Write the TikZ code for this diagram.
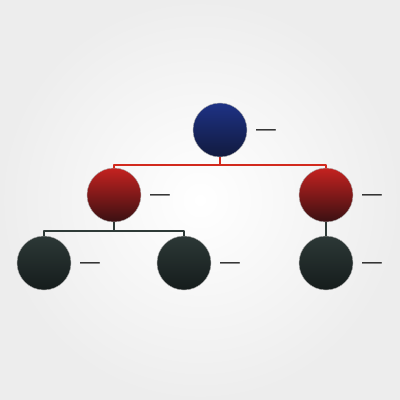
\documentclass[tikz,border=0pt]{standalone}
\usetikzlibrary{calc,positioning}

\definecolor{rootblue}{HTML}{1E3285}
\definecolor{rootbluedark}{HTML}{111A3E}
\definecolor{midred}{HTML}{C42220}
\definecolor{midreddark}{HTML}{3A1012}
\definecolor{leafgray}{HTML}{2C3836}
\definecolor{leafgraydark}{HTML}{151C1C}
\definecolor{linkred}{HTML}{D22A1E}
\definecolor{linkgray}{HTML}{2F3B38}

\begin{document}
\begin{tikzpicture}[x=0.025cm,y=-0.025cm,line cap=round,line join=round,
    ball/.style={circle,minimum size=1.35cm,inner sep=0pt,draw=gray!60,
      line width=.3pt},
    rootball/.style={ball,top color=rootblue,bottom color=rootbluedark},
    midball/.style={ball,top color=midred,bottom color=midreddark},
    leafball/.style={ball,top color=leafgray,bottom color=leafgraydark},
    redlink/.style={draw=linkred,line width=1.5pt,line cap=butt},
    graylink/.style={draw=linkgray,line width=1.5pt,line cap=butt},
    dashlabel/.style={inner sep=0pt,font=\Large,yshift=-6pt}]
    % Soft background.
    \fill[gray!14] (0,0) rectangle (400,400);
    \shade[inner color=white,outer color=gray!14] (0,0) rectangle (400,400);
    \useasboundingbox (0,0) rectangle (400,400);

    % The three levels.
    \node[rootball] (root) at (220,130) {};
    \node[midball] (midl) at (114,195) {};
    \node[midball] (midr) at (326,195) {};
    \node[leafball] (leafa) at (44,263) {};
    \node[leafball] (leafb) at (184,263) {};
    \node[leafball] (leafc) at (326,263) {};

    % Links from the root.
    \draw[redlink] (root.south) -- ++(0,8) coordinate (rootjoin) -| (midl.north);
    \draw[redlink] (rootjoin) -| (midr.north);

    % Links to the leaves.
    \draw[graylink] (midl.south) -- ++(0,9) coordinate (midjoin) -| (leafa.north);
    \draw[graylink] (midjoin) -| (leafb.north);
    \draw[graylink] (midr.south) -- (leafc.north);

    % Dash labels beside each ball.
    \node[dashlabel,right=.22cm of root] (droot) {\scalebox{1}[3]{---}};
    \node[dashlabel,right=.22cm of midl] (dmidl) {\scalebox{1}[3]{---}};
    \node[dashlabel,right=.22cm of midr] (dmidr) {\scalebox{1}[3]{---}};
    \node[dashlabel,right=.22cm of leafa] (dleafa) {\scalebox{1}[3]{---}};
    \node[dashlabel,right=.22cm of leafb] (dleafb) {\scalebox{1}[3]{---}};
    \node[dashlabel,right=.22cm of leafc] (dleafc) {\scalebox{1}[3]{---}};
  \end{tikzpicture}
\end{document}
